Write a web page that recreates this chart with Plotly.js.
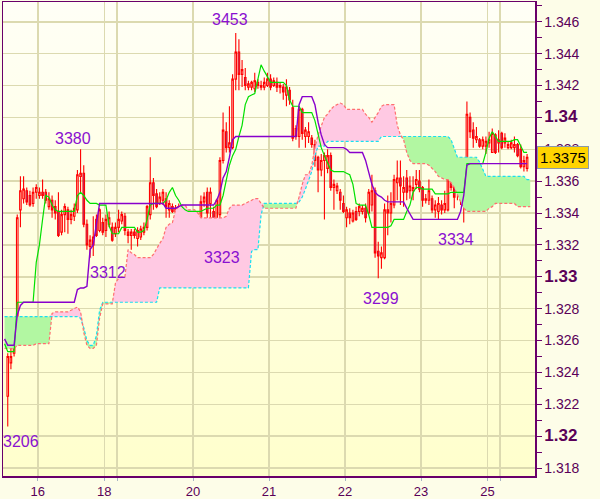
<!DOCTYPE html>
<html>
<head>
<meta charset="utf-8">
<script src="https://cdn.plot.ly/plotly-3.0.1.min.js"></script>
<style>html,body{margin:0;padding:0;background:#fdfde8;}#chart{width:600px;height:499px;}</style>
</head>
<body>
<div id="chart"></div>
<script>
// ---- candle data (hourly bars, index 1..165) ----
const open = [
1.3225,1.3246,1.3252,1.3262,1.3342,1.3349,1.3354,1.3351,1.3346,1.3353,
1.3351,1.3353,1.3353,1.3344,1.3348,1.3344,1.3341,1.3328,1.3339,1.3342,
1.3336,1.3338,1.3342,1.3363,1.3365,1.3333,1.3319,1.3320,1.3336,1.3329,
1.3334,1.3329,1.3333,1.3331,1.3327,1.3331,1.3335,1.3338,1.3328,1.3326,
1.3328,1.3324,1.3325,1.3328,1.3331,1.3339,1.3359,1.3352,1.3346,1.3348,
1.3349,1.3342,1.3344,1.3341,1.3341,1.3340,1.3336,1.3334,1.3335,1.3334,
1.3336,1.3337,1.3347,1.3353,1.3346,1.3341,1.3334,1.3339,1.3373,1.3391,
1.3381,1.3381,1.3424,1.3441,1.3427,1.3425,1.3419,1.3419,1.3418,1.3422,
1.3419,1.3419,1.3420,1.3424,1.3420,1.3422,1.3419,1.3419,1.3414,1.3417,
1.3406,1.3393,1.3388,1.3405,1.3388,1.3388,1.3387,1.3383,1.3375,1.3367,
1.3373,1.3368,1.3376,1.3356,1.3354,1.3353,1.3346,1.3337,1.3340,1.3335,
1.3341,1.3341,1.3341,1.3343,1.3340,1.3345,1.3354,1.3316,1.3312,1.3312,
1.3342,1.3340,1.3345,1.3359,1.3362,1.3353,1.3362,1.3354,1.3354,1.3358,
1.3360,1.3356,1.3348,1.3348,1.3349,1.3342,1.3341,1.3345,1.3342,1.3342,
1.3362,1.3356,1.3353,1.3355,1.3356,1.3349,1.3400,1.3392,1.3386,1.3386,
1.3382,1.3382,1.3384,1.3378,1.3389,1.3384,1.3390,1.3384,1.3381,1.3381,
1.3381,1.3383,1.3380,1.3369,1.3368];
const high = [
1.3252,1.3256,1.3270,1.3339,1.3363,1.3363,1.3356,1.3354,1.3356,1.3358,
1.3356,1.3361,1.3355,1.3353,1.3351,1.3348,1.3353,1.3342,1.3346,1.3344,
1.3342,1.3346,1.3367,1.3380,1.3370,1.3336,1.3326,1.3338,1.3339,1.3343,
1.3337,1.3339,1.3341,1.3334,1.3334,1.3342,1.3341,1.3340,1.3330,1.3330,
1.3330,1.3331,1.3332,1.3334,1.3345,1.3375,1.3362,1.3355,1.3353,1.3355,
1.3353,1.3348,1.3346,1.3345,1.3346,1.3344,1.3341,1.3339,1.3339,1.3342,
1.3340,1.3351,1.3353,1.3356,1.3356,1.3344,1.3349,1.3375,1.3403,1.3397,
1.3407,1.3427,1.3453,1.3449,1.3436,1.3431,1.3423,1.3423,1.3428,1.3424,
1.3423,1.3425,1.3428,1.3427,1.3425,1.3425,1.3422,1.3421,1.3424,1.3419,
1.3411,1.3395,1.3407,1.3406,1.3394,1.3397,1.3389,1.3386,1.3376,1.3377,
1.3378,1.3380,1.3378,1.3361,1.3359,1.3355,1.3351,1.3344,1.3343,1.3342,
1.3344,1.3346,1.3345,1.3346,1.3355,1.3364,1.3356,1.3322,1.3319,1.3346,
1.3351,1.3353,1.3364,1.3373,1.3373,1.3363,1.3367,1.3363,1.3363,1.3367,
1.3367,1.3357,1.3352,1.3361,1.3351,1.3348,1.3350,1.3348,1.3354,1.3366,
1.3366,1.3359,1.3359,1.3373,1.3357,1.3410,1.3403,1.3397,1.3394,1.3387,
1.3388,1.3388,1.3391,1.3393,1.3390,1.3392,1.3391,1.3390,1.3385,1.3386,
1.3388,1.3384,1.3383,1.3376,1.3377];
const low = [
1.3206,1.3242,1.3250,1.3257,1.3331,1.3346,1.3345,1.3344,1.3344,1.3349,
1.3349,1.3349,1.3346,1.3342,1.3337,1.3336,1.3325,1.3326,1.3328,1.3327,
1.3333,1.3335,1.3340,1.3353,1.3331,1.3317,1.3312,1.3313,1.3325,1.3328,
1.3326,1.3325,1.3331,1.3322,1.3325,1.3328,1.3333,1.3326,1.3321,1.3317,
1.3324,1.3319,1.3323,1.3326,1.3329,1.3336,1.3342,1.3343,1.3345,1.3345,
1.3337,1.3337,1.3340,1.3339,1.3337,1.3332,1.3331,1.3332,1.3331,1.3331,
1.3330,1.3335,1.3344,1.3336,1.3334,1.3331,1.3323,1.3336,1.3371,1.3378,
1.3378,1.3380,1.3417,1.3417,1.3419,1.3417,1.3417,1.3417,1.3416,1.3418,
1.3417,1.3417,1.3419,1.3417,1.3419,1.3416,1.3415,1.3411,1.3407,1.3408,
1.3385,1.3386,1.3381,1.3386,1.3381,1.3384,1.3381,1.3369,1.3353,1.3363,
1.3336,1.3365,1.3354,1.3342,1.3352,1.3342,1.3340,1.3331,1.3333,1.3334,
1.3335,1.3338,1.3339,1.3334,1.3339,1.3341,1.3312,1.3299,1.3305,1.3311,
1.3326,1.3334,1.3343,1.3348,1.3345,1.3344,1.3348,1.3349,1.3348,1.3355,
1.3353,1.3344,1.3346,1.3345,1.3340,1.3337,1.3336,1.3339,1.3340,1.3341,
1.3354,1.3343,1.3348,1.3345,1.3334,1.3348,1.3387,1.3381,1.3384,1.3381,
1.3380,1.3377,1.3381,1.3378,1.3377,1.3378,1.3380,1.3381,1.3380,1.3380,
1.3378,1.3375,1.3368,1.3366,1.3366];
const close = [
1.3250,1.3250,1.3262,1.3337,1.3354,1.3355,1.3347,1.3345,1.3353,1.3356,
1.3353,1.3351,1.3348,1.3349,1.3342,1.3340,1.3326,1.3339,1.3344,1.3336,
1.3339,1.3343,1.3364,1.3365,1.3333,1.3320,1.3323,1.3325,1.3326,1.3342,
1.3328,1.3336,1.3337,1.3323,1.3331,1.3336,1.3339,1.3329,1.3326,1.3328,
1.3326,1.3329,1.3330,1.3331,1.3344,1.3359,1.3351,1.3344,1.3350,1.3353,
1.3344,1.3346,1.3341,1.3343,1.3344,1.3334,1.3338,1.3337,1.3338,1.3338,
1.3338,1.3347,1.3350,1.3340,1.3353,1.3334,1.3348,1.3373,1.3392,1.3381,
1.3384,1.3424,1.3441,1.3427,1.3430,1.3420,1.3421,1.3422,1.3423,1.3420,
1.3420,1.3422,1.3424,1.3419,1.3423,1.3419,1.3420,1.3416,1.3419,1.3411,
1.3387,1.3388,1.3405,1.3390,1.3392,1.3391,1.3383,1.3373,1.3367,1.3373,
1.3376,1.3376,1.3356,1.3358,1.3357,1.3348,1.3341,1.3342,1.3337,1.3340,
1.3336,1.3344,1.3343,1.3337,1.3353,1.3354,1.3315,1.3313,1.3315,1.3342,
1.3340,1.3346,1.3361,1.3362,1.3357,1.3356,1.3353,1.3357,1.3356,1.3361,
1.3355,1.3348,1.3349,1.3354,1.3342,1.3345,1.3346,1.3342,1.3346,1.3363,
1.3356,1.3350,1.3357,1.3358,1.3348,1.3402,1.3391,1.3387,1.3388,1.3382,
1.3386,1.3385,1.3386,1.3390,1.3378,1.3386,1.3381,1.3387,1.3383,1.3384,
1.3383,1.3376,1.3369,1.3373,1.3375];

// ---- Ichimoku lines (index 0..165) ----
const tenkan = [
1.3258,1.3253,1.3253,1.3253,1.3284,1.3284,1.3284,1.3284,1.3284,1.3284,
1.3309,1.3320,1.3336,1.3351,1.3350,1.3345,1.3342,1.3341,1.3341,1.3341,
1.3341,1.3341,1.3341,1.3351,1.3353,1.3351,1.3348,1.3346,1.3346,1.3346,
1.3345,1.3345,1.3345,1.3332,1.3327,1.3327,1.3327,1.3331,1.3331,1.3331,
1.3331,1.3331,1.3328,1.3328,1.3329,1.3336,1.3345,1.3346,1.3346,1.3346,
1.3346,1.3348,1.3353,1.3356,1.3351,1.3348,1.3344,1.3342,1.3341,1.3341,
1.3341,1.3341,1.3341,1.3342,1.3343,1.3343,1.3343,1.3345,1.3345,1.3351,
1.3361,1.3370,1.3376,1.3380,1.3388,1.3395,1.3408,1.3413,1.3414,1.3415,
1.3424,1.3433,1.3429,1.3425,1.3422,1.3422,1.3422,1.3422,1.3422,1.3420,
1.3411,1.3407,1.3407,1.3407,1.3403,1.3403,1.3403,1.3403,1.3398,1.3389,
1.3381,1.3376,1.3371,1.3367,1.3366,1.3366,1.3366,1.3366,1.3365,1.3364,
1.3358,1.3346,1.3345,1.3345,1.3345,1.3339,1.3331,1.3331,1.3331,1.3331,
1.3331,1.3331,1.3332,1.3336,1.3336,1.3336,1.3336,1.3341,1.3345,1.3353,
1.3356,1.3356,1.3355,1.3355,1.3355,1.3355,1.3352,1.3352,1.3352,1.3352,
1.3352,1.3353,1.3353,1.3353,1.3353,1.3353,1.3371,1.3371,1.3371,1.3371,
1.3371,1.3371,1.3378,1.3387,1.3391,1.3388,1.3385,1.3385,1.3385,1.3385,
1.3385,1.3386,1.3386,1.3382,1.3378,1.3378];
const kijun = [
1.3261,1.3257,1.3257,1.3257,1.3276,1.3282,1.3284,1.3284,1.3284,1.3284,
1.3284,1.3284,1.3284,1.3284,1.3284,1.3284,1.3284,1.3284,1.3284,1.3284,
1.3284,1.3284,1.3284,1.3292,1.3293,1.3293,1.3294,1.3317,1.3320,1.3333,
1.3346,1.3346,1.3346,1.3346,1.3346,1.3346,1.3346,1.3346,1.3346,1.3346,
1.3346,1.3346,1.3346,1.3346,1.3346,1.3346,1.3346,1.3346,1.3346,1.3346,
1.3346,1.3343,1.3343,1.3343,1.3343,1.3344,1.3345,1.3345,1.3345,1.3345,
1.3345,1.3345,1.3345,1.3345,1.3345,1.3345,1.3345,1.3348,1.3353,1.3362,
1.3366,1.3375,1.3386,1.3388,1.3388,1.3388,1.3388,1.3388,1.3388,1.3388,
1.3388,1.3388,1.3388,1.3388,1.3388,1.3388,1.3388,1.3388,1.3388,1.3388,
1.3388,1.3388,1.3388,1.3408,1.3413,1.3413,1.3413,1.3413,1.3408,1.3397,
1.3389,1.3383,1.3381,1.3381,1.3381,1.3381,1.3381,1.3381,1.3380,1.3378,
1.3378,1.3378,1.3378,1.3378,1.3373,1.3366,1.3358,1.3353,1.3351,1.3350,
1.3348,1.3347,1.3347,1.3347,1.3347,1.3347,1.3347,1.3343,1.3339,1.3336,
1.3336,1.3336,1.3336,1.3336,1.3336,1.3336,1.3336,1.3336,1.3336,1.3336,
1.3336,1.3336,1.3336,1.3336,1.3341,1.3351,1.3370,1.3371,1.3371,1.3371,
1.3371,1.3371,1.3371,1.3371,1.3371,1.3371,1.3371,1.3371,1.3371,1.3371,
1.3371,1.3371,1.3371,1.3371,1.3371,1.3371];
const spanA = [
1.3275,1.3275,1.3275,1.3275,1.3275,1.3275,1.3275,1.3275,1.3275,1.3275,
1.3275,1.3275,1.3275,1.3275,1.3275,1.3275,1.3275,1.3275,1.3275,1.3275,
1.3275,1.3275,1.3275,1.3275,1.3274,1.3268,1.3260,1.3257,1.3257,1.3263,
1.3279,1.3284,1.3284,1.3284,1.3284,1.3284,1.3284,1.3284,1.3284,1.3284,
1.3284,1.3284,1.3284,1.3284,1.3284,1.3284,1.3284,1.3284,1.3284,1.3293,
1.3293,1.3293,1.3293,1.3293,1.3293,1.3293,1.3293,1.3293,1.3293,1.3293,
1.3293,1.3293,1.3293,1.3293,1.3293,1.3293,1.3293,1.3293,1.3293,1.3293,
1.3293,1.3293,1.3293,1.3293,1.3293,1.3293,1.3293,1.3293,1.3316,1.3317,
1.3317,1.3339,1.3346,1.3346,1.3346,1.3346,1.3346,1.3346,1.3346,1.3346,
1.3346,1.3346,1.3346,1.3347,1.3350,1.3355,1.3360,1.3366,1.3376,1.3382,
1.3382,1.3382,1.3385,1.3385,1.3385,1.3385,1.3385,1.3385,1.3385,1.3385,
1.3385,1.3385,1.3385,1.3385,1.3385,1.3385,1.3385,1.3385,1.3385,1.3388,
1.3388,1.3388,1.3388,1.3388,1.3388,1.3388,1.3388,1.3388,1.3388,1.3388,
1.3388,1.3388,1.3388,1.3388,1.3388,1.3388,1.3388,1.3388,1.3388,1.3388,
1.3388,1.3386,1.3380,1.3375,1.3375,1.3375,1.3375,1.3375,1.3375,1.3375,
1.3372,1.3367,1.3363,1.3363,1.3363,1.3363,1.3363,1.3363,1.3363,1.3363,
1.3363,1.3363,1.3363,1.3363,1.3363,1.3361,1.3361];
const spanB = [
1.3255,1.3255,1.3255,1.3255,1.3257,1.3257,1.3257,1.3257,1.3257,1.3257,
1.3258,1.3258,1.3258,1.3258,1.3258,1.3277,1.3278,1.3278,1.3278,1.3278,
1.3278,1.3279,1.3280,1.3281,1.3278,1.3265,1.3257,1.3255,1.3255,1.3257,
1.3274,1.3283,1.3283,1.3283,1.3283,1.3296,1.3299,1.3300,1.3300,1.3317,
1.3315,1.3314,1.3312,1.3312,1.3312,1.3312,1.3312,1.3314,1.3318,1.3321,
1.3324,1.3331,1.3333,1.3334,1.3342,1.3344,1.3345,1.3345,1.3342,1.3342,
1.3342,1.3340,1.3337,1.3337,1.3337,1.3337,1.3337,1.3337,1.3337,1.3337,
1.3338,1.3343,1.3345,1.3345,1.3345,1.3345,1.3346,1.3347,1.3348,1.3349,
1.3349,1.3346,1.3343,1.3343,1.3343,1.3343,1.3343,1.3343,1.3343,1.3343,
1.3343,1.3343,1.3343,1.3350,1.3358,1.3364,1.3364,1.3370,1.3381,1.3389,
1.3394,1.3400,1.3402,1.3405,1.3407,1.3408,1.3409,1.3408,1.3405,1.3405,
1.3405,1.3405,1.3405,1.3405,1.3402,1.3400,1.3397,1.3400,1.3403,1.3407,
1.3408,1.3408,1.3408,1.3408,1.3395,1.3389,1.3386,1.3378,1.3373,1.3371,
1.3371,1.3371,1.3371,1.3371,1.3370,1.3368,1.3366,1.3363,1.3362,1.3361,
1.3361,1.3359,1.3356,1.3351,1.3347,1.3343,1.3341,1.3341,1.3341,1.3341,
1.3341,1.3341,1.3341,1.3343,1.3344,1.3346,1.3346,1.3346,1.3346,1.3346,
1.3346,1.3346,1.3344,1.3344,1.3344,1.3344,1.3344];

// ---- axis labels ----
const dayTickPos = [10.5, 31.5, 35.5, 59.5, 83.5, 107.5, 131.5, 152.5, 156.5];
const dayTickText = ['16', '18', '', '20', '21', '22', '23', '25', ''];
const priceTicks = [1.318,1.320,1.322,1.324,1.326,1.328,1.330,1.332,1.334,1.336,1.338,1.340,1.342,1.344,1.346];

// ---- swing labels (bar index, price) ----
const swingIdx = [73, 24, 27, 67, 118, 145, 1];
const swingVal = [1.3453, 1.3380, 1.3312, 1.3323, 1.3299, 1.3334, 1.3206];
const swingShiftX = [-6, -8, 18, 5, 3, -8, 13];
const swingShiftY = [13, 11, -15, -17, -20, -17, -15];

// ---- build traces ----
const candleX = open.map((_, k) => k + 1);
const lineX = tenkan.map((_, k) => k);
const spanX = spanA.map((_, k) => k);
const cloudTop = spanA.map((a, k) => Math.max(a, spanB[k]));

const noHover = {hoverinfo: 'skip', showlegend: false};
const traces = [
  Object.assign({x: spanX, y: spanB, mode: 'lines', line: {width: 0}, type: 'scatter'}, noHover),
  Object.assign({x: spanX, y: cloudTop, mode: 'lines', line: {width: 0}, fill: 'tonexty', fillcolor: '#b2f7a2', type: 'scatter'}, noHover),
  Object.assign({x: spanX, y: spanA, mode: 'lines', line: {width: 0}, type: 'scatter'}, noHover),
  Object.assign({x: spanX, y: cloudTop, mode: 'lines', line: {width: 0}, fill: 'tonexty', fillcolor: '#ffc9e3', type: 'scatter'}, noHover),
  Object.assign({x: spanX, y: spanA, mode: 'lines', line: {color: '#18e0f0', width: 1.2, dash: '3px,2px'}, type: 'scatter'}, noHover),
  Object.assign({x: spanX, y: spanB, mode: 'lines', line: {color: '#ff6f6f', width: 1.2, dash: '3px,2px'}, type: 'scatter'}, noHover),
  {
    type: 'candlestick', x: candleX, open: open, high: high, low: low, close: close,
    increasing: {line: {color: '#ff0000', width: 1.1}, fillcolor: 'rgba(255,255,255,0)'},
    decreasing: {line: {color: '#ff0000', width: 1.1}, fillcolor: '#8a48a8'},
    whiskerwidth: 0, hoverinfo: 'skip', showlegend: false
  },
  Object.assign({x: lineX, y: tenkan, mode: 'lines', line: {color: '#00e000', width: 1.2}, type: 'scatter'}, noHover),
  Object.assign({x: lineX, y: kijun, mode: 'lines', line: {color: '#8800cc', width: 1.4}, type: 'scatter'}, noHover)
];

const boldSet = [1.32, 1.33, 1.34];
const priceText = priceTicks.map(v => {
  const isBold = boldSet.some(b => Math.abs(b - v) < 1e-9);
  const s = String(Math.round(v * 1000) / 1000);
  return isBold ? '<span style="font-size:17px"><b>' + s + '</b></span>' : s;
});

const annotations = swingIdx.map((ix, k) => ({
  x: ix, y: swingVal[k], xref: 'x', yref: 'y',
  text: String(Math.round(swingVal[k] * 10000)).slice(1),
  showarrow: false, xshift: swingShiftX[k], yshift: swingShiftY[k],
  font: {family: 'Liberation Sans, Arial, sans-serif', size: 16, color: '#8a10d0'}
}));
const lastClose = close[close.length - 1];
annotations.push({
  x: 1, xref: 'paper', xanchor: 'left', xshift: 2,
  y: lastClose, yref: 'y', yanchor: 'middle',
  text: lastClose.toFixed(4), showarrow: false,
  bgcolor: '#ffd400', bordercolor: '#8a9aaa', borderwidth: 1, borderpad: 2,
  font: {family: 'Liberation Sans, Arial, sans-serif', size: 15, color: '#000000'}
});

const bgSvg = 'data:image/svg+xml;charset=utf-8,' + encodeURIComponent(
  '<svg xmlns="http://www.w3.org/2000/svg" width="10" height="100" preserveAspectRatio="none">' +
  '<defs><linearGradient id="g" x1="0" y1="0" x2="0" y2="1">' +
  '<stop offset="0" stop-color="#fffff6"/><stop offset="1" stop-color="#ffffcc"/>' +
  '</linearGradient></defs><rect width="10" height="100" fill="url(#g)"/></svg>');

const axisFont = {family: 'Liberation Sans, Arial, sans-serif', size: 14, color: '#5a0058'};
const layout = {
  width: 600, height: 499,
  margin: {l: 3, r: 65, t: 2, b: 23, pad: 0},
  paper_bgcolor: '#fdfde8',
  plot_bgcolor: 'rgba(0,0,0,0)',
  showlegend: false,
  hovermode: false,
  images: [{source: bgSvg, xref: 'paper', yref: 'paper', x: 0, y: 1, sizex: 1, sizey: 1,
            sizing: 'stretch', xanchor: 'left', yanchor: 'top', layer: 'below'}],
  xaxis: {
    range: [-0.5, 167.5], tickmode: 'array', tickvals: dayTickPos, ticktext: dayTickText,
    showgrid: true, gridcolor: '#dcdab0', gridwidth: 1.5,
    ticks: 'outside', ticklen: 3, tickcolor: '#a8b4c4', tickwidth: 1,
    showline: true, mirror: true, linecolor: '#6a006a', linewidth: 1.5,
    zeroline: false, rangeslider: {visible: false},
    tickfont: {family: 'Liberation Sans, Arial, sans-serif', size: 13, color: '#5a0058'}, fixedrange: true
  },
  yaxis: {
    side: 'right', range: [1.3175, 1.34724], tickmode: 'array', tickvals: priceTicks, ticktext: priceText,
    showgrid: true, gridcolor: '#dcdab0', gridwidth: 1.5,
    ticks: 'outside', ticklen: 5, tickcolor: '#6a006a', tickwidth: 1,
    minor: {tickmode: 'linear', tick0: 1.317, dtick: 0.001, ticks: 'outside', ticklen: 5, tickcolor: '#6a006a', showgrid: false},
    showline: true, mirror: true, linecolor: '#6a006a', linewidth: 1.5,
    zeroline: false, tickfont: axisFont, fixedrange: true
  },
  annotations: annotations
};

Plotly.newPlot('chart', traces, layout, {staticPlot: true, displayModeBar: false});
</script>
</body>
</html>
